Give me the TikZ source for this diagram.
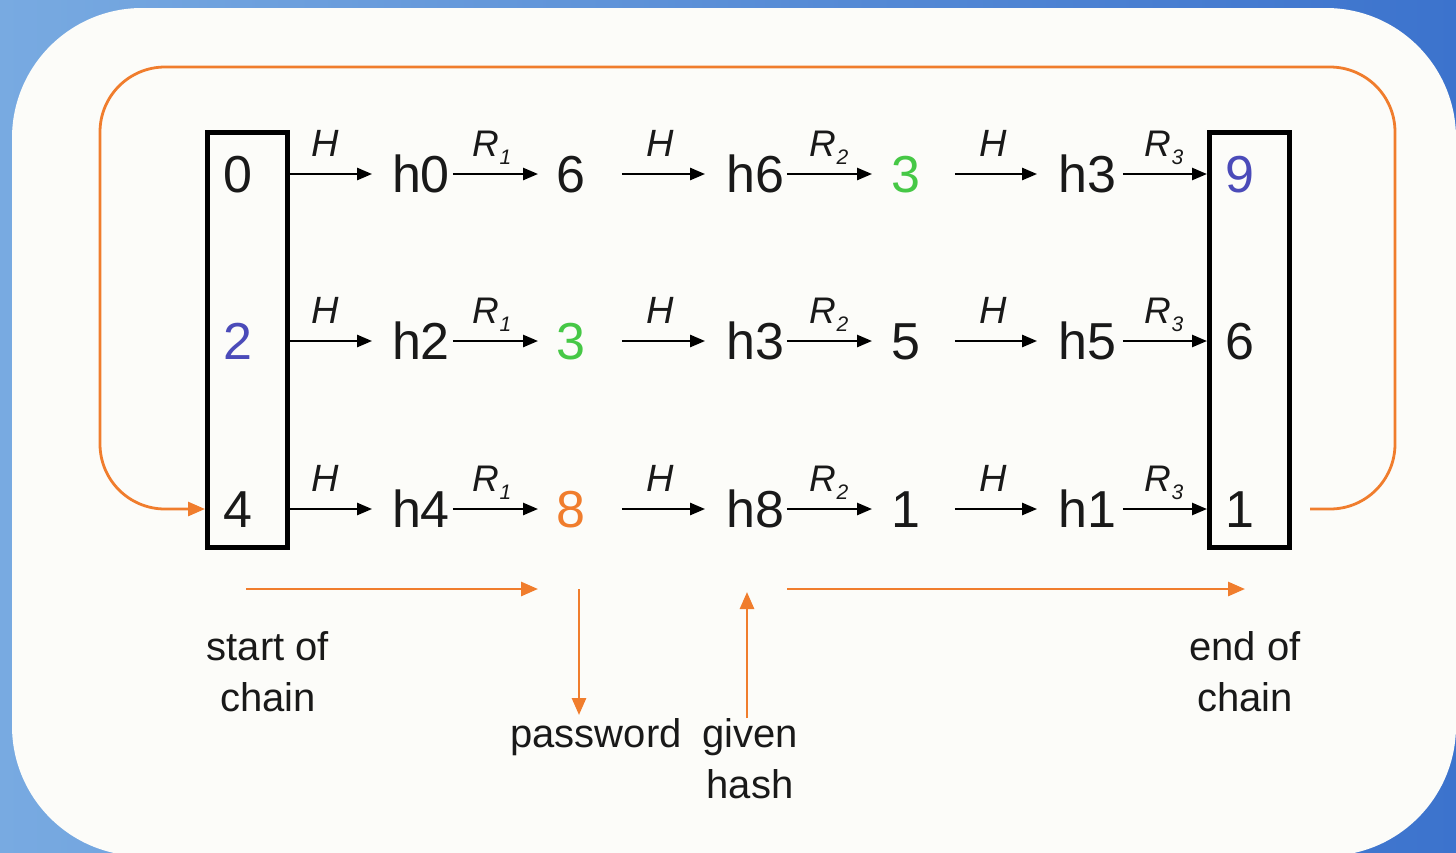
\documentclass[tikz,border=0pt]{standalone}
\usepackage{fontspec}
\setmainfont{Liberation Sans}
\usetikzlibrary{arrows.meta}
\definecolor{orng}{RGB}{240,125,45}
\definecolor{dblue}{RGB}{75,75,185}
\definecolor{dgreen}{RGB}{70,200,70}
\definecolor{paper}{RGB}{252,252,249}
\definecolor{ink}{RGB}{25,25,25}
\definecolor{skyA}{RGB}{120,170,225}
\definecolor{skyB}{RGB}{60,115,205}
\begin{document}
\begin{tikzpicture}[x=0.5pt,y=-0.5pt,
  val/.style={inner sep=0pt, outer sep=0pt, text height=18pt, text depth=0pt,
              font=\fontsize{26}{30}\selectfont, text=ink},
  lbl/.style={inner sep=0pt, anchor=base, font=\fontsize{19}{22}\selectfont\itshape, text=ink},
  rlbl/.style={inner sep=0pt, anchor=base, font=\fontsize{18.5}{22}\selectfont\itshape, text=ink},
  chainbox/.style={draw=black, line width=2.5pt, minimum width=40pt,
                   minimum height=207.5pt, inner sep=0pt},
  arr/.style={-{Triangle[length=7.5pt,width=6pt]}, line width=1.25pt, draw=black},
  oarr/.style={-{Triangle[length=8.5pt,width=7pt]}, line width=1.4pt, draw=orng},
  captxt/.style={font=\fontsize{20}{25.5}\selectfont, align=center, text=ink,
              inner sep=0pt, anchor=north}
]
\useasboundingbox (0,0) rectangle (1456,852);
\clip (0,0) rectangle (1456,852);
\shade[left color=skyA, right color=skyB] (0,0) rectangle (1456,852);
\fill[paper, rounded corners=65pt] (12,8) rectangle (1456,856);

% chain boxes
\node[chainbox] (Lbox) at (247.5,340) {};
\node[chainbox] (Rbox) at (1249.5,340) {};

% row 1
\node[val] (a1) at (238,174) {0};
\node[val] (b1) at (421,174) {h0};
\node[val] (c1) at (571,174) {6};
\node[val] (d1) at (755,174) {h6};
\node[val,text=dgreen] (e1) at (906,174) {3};
\node[val] (f1) at (1087,174) {h3};
\node[val,text=dblue] (g1) at (1240,174) {9};
% row 2
\node[val,text=dblue] (a2) at (238,341) {2};
\node[val] (b2) at (421,341) {h2};
\node[val,text=dgreen] (c2) at (571,341) {3};
\node[val] (d2) at (755,341) {h3};
\node[val] (e2) at (906,341) {5};
\node[val] (f2) at (1087,341) {h5};
\node[val] (g2) at (1240,341) {6};
% row 3
\node[val] (a3) at (238,509) {4};
\node[val] (b3) at (421,509) {h4};
\node[val,text=orng] (c3) at (571,509) {8};
\node[val] (d3) at (755,509) {h8};
\node[val] (e3) at (906,509) {1};
\node[val] (f3) at (1087,509) {h1};
\node[val] (g3) at (1240,509) {1};

\foreach \r/\y in {1/156,2/323,3/491}{
  \draw[arr, shorten >=10pt] (b\r.west -| Lbox.east) -- (b\r.west);
  \draw[arr, shorten <=1.5pt, shorten >=9.25pt] (b\r.east) -- (c\r.west);
  \draw[arr, shorten <=18.25pt, shorten >=10.5pt] (c\r.east) -- (d\r.west);
  \draw[arr, shorten <=1.5pt, shorten >=9.75pt] (d\r.east) -- (e\r.west);
  \draw[arr, shorten <=17.25pt, shorten >=10.5pt] (e\r.east) -- (f\r.west);
  \draw[arr, shorten <=3.5pt] (f\r.east) -- (f\r.east -| Rbox.west);
  \node[lbl] (hA\r) at (325,\y) {H};
  \node[rlbl] (rA\r) at (492,\y) {R\raisebox{-0.22em}{\fontsize{10.5}{10}\selectfont 1}};
  \node[lbl] (hB\r) at (660,\y) {H};
  \node[rlbl] (rB\r) at (829,\y) {R\raisebox{-0.22em}{\fontsize{10.5}{10}\selectfont 2}};
  \node[lbl] (hC\r) at (993,\y) {H};
  \node[rlbl] (rC\r) at (1164,\y) {R\raisebox{-0.22em}{\fontsize{10.5}{10}\selectfont 3}};
}

% loop from end of chain back to start
\draw[oarr, rounded corners=32.5pt]
  ([xshift=9pt]Rbox.east |- g3) -| (1395,67) -| (100,509) -- (Lbox.west |- a3);

% captions
\node[captxt] (soc) at (268,631) {start of\\chain};
\node[captxt] (eoc) at (1245,631) {end of\\chain};
\node[captxt] (pw) at (596,718) {password};
\node[captxt] (gh) at (750,718) {given\\hash};

% lower orange arrows
\coordinate (s1) at (246,589);
\coordinate (s2) at (538,589);
\coordinate (p1) at (579,589);
\coordinate (g1up) at (747,592);
\coordinate (e1s) at (787,589);
\coordinate (e2s) at (1245,589);
\draw[oarr] (s1) -- (s2);
\draw[oarr, shorten >=1.5pt] (p1) -- (p1 |- pw.north);
\draw[oarr] (g1up |- gh.north) -- (g1up);
\draw[oarr] (e1s) -- (e2s);
\end{tikzpicture}
\end{document}
